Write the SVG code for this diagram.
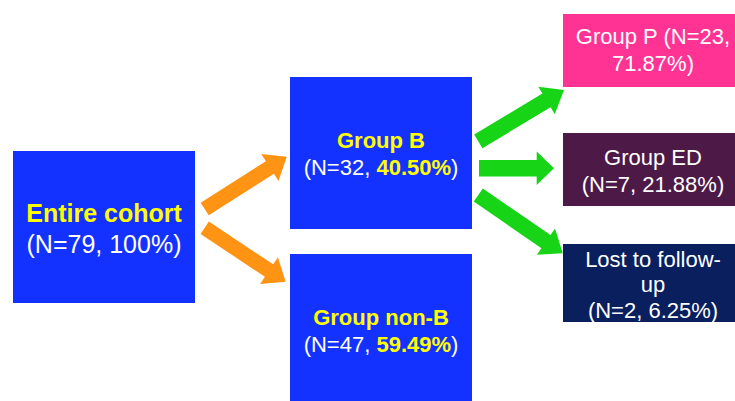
<svg xmlns="http://www.w3.org/2000/svg" width="735" height="401" viewBox="0 0 735 401">
<style>
.blue{fill:#1432FF}
.t{font-family:"Liberation Sans",Arial,sans-serif;text-anchor:middle}
.w{fill:#FFFFFF}
.y{fill:#FFFF00;font-weight:bold}
.orange{fill:#FF9414}
.green{fill:#17D417}
</style>
<rect width="735" height="401" fill="#FFFFFF"/>
<g id="connectors">
  <path class="orange" transform="translate(204.7,209) rotate(-32.5)" d="M0,-7.5 L77.3,-7.5 L77.3,-16 L97.3,0 L77.3,16 L77.3,7.5 L0,7.5 Z"/>
  <path class="orange" transform="translate(204.7,227.7) rotate(33.7)" d="M0,-7.5 L77.3,-7.5 L77.3,-16 L97.3,0 L77.3,16 L77.3,7.5 L0,7.5 Z"/>
  <path class="green" transform="translate(478.3,141.3) rotate(-30.9)" d="M0,-8 L79.5,-8 L79.5,-16 L99.9,0 L79.5,16 L79.5,8 L0,8 Z"/>
  <path class="green" transform="translate(479,168.3)" d="M0,-8.3 L57.7,-8.3 L57.7,-16.7 L75,0 L57.7,16.7 L57.7,8.3 L0,8.3 Z"/>
  <path class="green" transform="translate(478.3,195) rotate(34.6)" d="M0,-8 L82.2,-8 L82.2,-16 L102.6,0 L82.2,16 L82.2,8 L0,8 Z"/>
</g>
<g id="entire">
  <rect class="blue" x="13" y="151" width="182" height="152"/>
  <text class="t y" x="104" y="222" font-size="25">Entire cohort</text>
  <text class="t w" x="104" y="253" font-size="25">(N=79, 100%)</text>
</g>
<g id="groupB">
  <rect class="blue" x="290" y="77" width="182" height="152"/>
  <text class="t y" x="381" y="148" font-size="22">Group B</text>
  <text class="t w" x="381" y="175" font-size="22">(N=32, <tspan class="y">40.50%</tspan>)</text>
</g>
<g id="groupNonB">
  <rect class="blue" x="290" y="254" width="182" height="160"/>
  <text class="t y" x="381" y="325" font-size="22">Group non-B</text>
  <text class="t w" x="381" y="352" font-size="22">(N=47, <tspan class="y">59.49%</tspan>)</text>
</g>
<g id="groupP">
  <rect x="563" y="14" width="180" height="73" fill="#FF3394"/>
  <text class="t w" x="653" y="44" font-size="22">Group P (N=23,</text>
  <text class="t w" x="653" y="71" font-size="22">71.87%)</text>
</g>
<g id="groupED">
  <rect x="563" y="133" width="180" height="73" fill="#4D1A47"/>
  <text class="t w" x="653" y="165" font-size="22">Group ED</text>
  <text class="t w" x="653" y="192" font-size="22">(N=7, 21.88%)</text>
</g>
<g id="lost">
  <rect x="563" y="244" width="180" height="78" fill="#0A1F5E"/>
  <text class="t w" x="653" y="267" font-size="22">Lost to follow-</text>
  <text class="t w" x="653" y="292" font-size="22">up</text>
  <text class="t w" x="653" y="318" font-size="22">(N=2, 6.25%)</text>
</g>
</svg>
